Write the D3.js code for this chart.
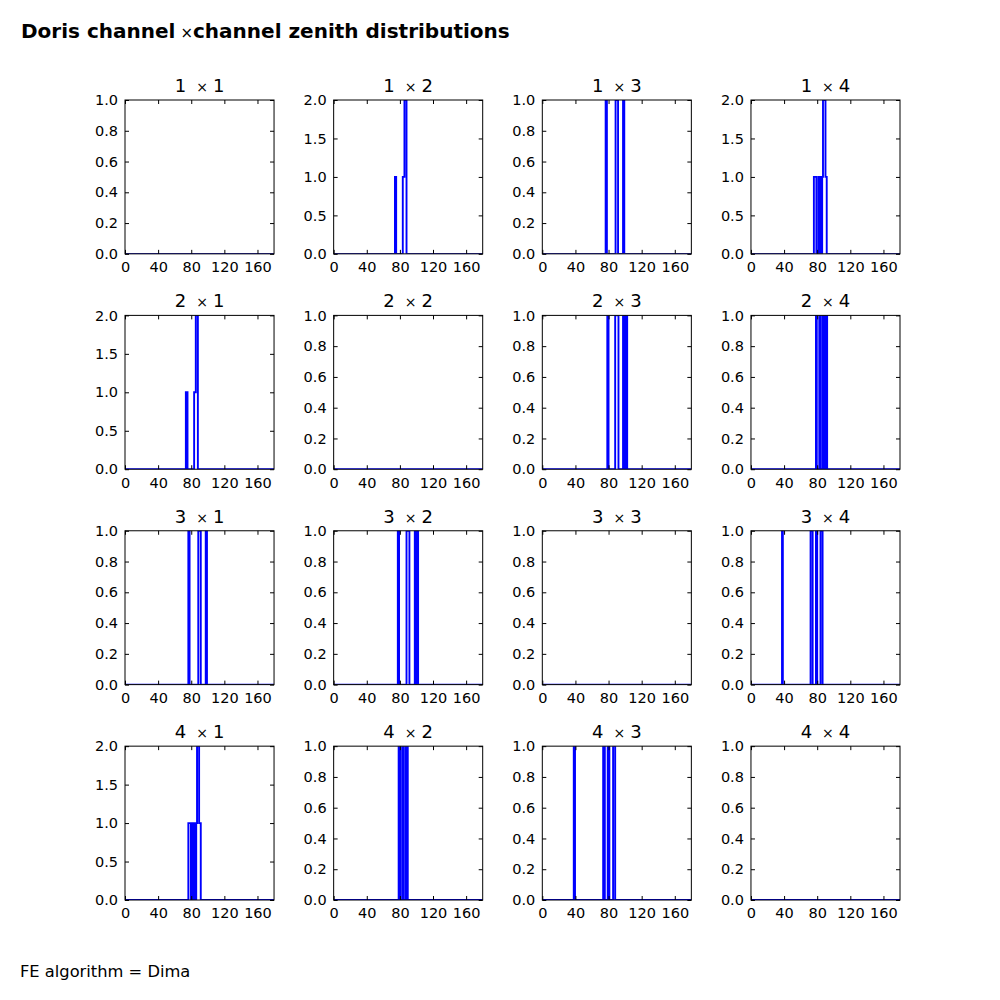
<!DOCTYPE html>
<html>
<head>
<meta charset="utf-8">
<script src="https://cdn.jsdelivr.net/npm/d3@7"></script>
<style>
  body { margin: 0; background: #fff; }
  text { font-family: "DejaVu Sans", sans-serif; }
</style>
</head>
<body>
<div id="chart"></div>
<script>
// histogram segments per channel pair: [from deg, to deg, count]
var h11 = [];
var h12 = [[74, 75.5, 1], [83.5, 85.5, 1], [85.5, 88, 2]];
var h13 = [[76.5, 78, 1], [88.5, 91.5, 1], [97.5, 99, 1]];
var h14 = [[76, 79, 1], [81.5, 82.5, 1], [83, 84, 1], [84.5, 85.5, 1], [86, 87, 1], [87, 90, 2], [90, 91.5, 1]];
var h21 = [[73.5, 75.5, 1], [83.5, 85.5, 1], [85.5, 88, 2]];
var h22 = [];
var h23 = [[78.5, 80, 1], [88, 92, 1], [97.5, 99, 1], [100.5, 102.5, 1]];
var h24 = [[78.5, 79.5, 1], [82.5, 83.5, 1], [86, 87, 1], [87.5, 88.5, 1], [89, 90, 1], [90.5, 92, 1]];
var h31 = [[76.5, 78, 1], [88.5, 91.5, 1], [97.5, 99, 1]];
var h32 = [[77.5, 79, 1], [88, 91.5, 1], [98, 99.5, 1], [100.5, 102, 1]];
var h33 = [];
var h34 = [[37.5, 38.5, 1], [72, 74.5, 1], [78.5, 80, 1], [84, 86.5, 1]];
var h41 = [[76.5, 79.5, 1], [81.5, 82.5, 1], [83, 84, 1], [84.5, 85.5, 1], [86, 87, 1], [87, 89.5, 2], [89.5, 91.5, 1]];
var h42 = [[78.5, 80.5, 1], [83, 84, 1], [86.5, 87.5, 1], [88, 89.5, 1]];
var h43 = [[38, 39.5, 1], [73.5, 75.5, 1], [79, 81, 1], [85.5, 88, 1]];
var h44 = [];

var channels = [1, 2, 3, 4];
var panels = [
    [h11, h12, h13, h14],
    [h21, h22, h23, h24],
    [h31, h32, h33, h34],
    [h41, h42, h43, h44]
];
var xTicks = [0, 40, 80, 120, 160];
var yTicks1 = [0, 0.2, 0.4, 0.6, 0.8, 1.0];
var yTicks2 = [0, 0.5, 1.0, 1.5, 2.0];

var svgWidth = 1000;
var svgHeight = 1000;
var margin = {top: 100, right: 100, bottom: 100, left: 125};
var space = 0.4;
var cellW = (svgWidth - margin.left - margin.right) / (4 + 3 * space);
var cellH = (svgHeight - margin.top - margin.bottom) / (4 + 3 * space);

var svg = d3.select("#chart")
    .append("svg")
    .attr("width", svgWidth)
    .attr("height", svgHeight);

var title = svg.append("text")
    .attr("x", 21)
    .attr("y", 38)
    .style("font-size", "20px")
    .style("font-weight", "bold");
title.append("tspan").text("Doris channel");
title.append("tspan").attr("dx", 5).style("font-weight", "normal").style("font-size", "15px").text("×");
title.append("tspan").text("channel zenith distributions");

svg.append("text")
    .attr("x", 20)
    .attr("y", 977)
    .style("font-size", "16.3px")
    .text("FE algorithm = Dima");

var xScale = d3.scaleLinear().domain([0, 180]).range([0, cellW]);

// turn segments into a step outline
function stepPoints(segs) {
    var pts = [[0, 0]];
    var prev = null;
    segs.forEach(function (s) {
        if (prev === null || prev[1] !== s[0]) {
            if (prev !== null) pts.push([prev[1], 0]);
            pts.push([s[0], 0]);
        }
        pts.push([s[0], s[2]]);
        pts.push([s[1], s[2]]);
        prev = s;
    });
    if (prev !== null) pts.push([prev[1], 0]);
    pts.push([180, 0]);
    return pts;
}

channels.forEach(function (a, r) {
    channels.forEach(function (b, c) {
        var segs = panels[r][c];
        var maxCount = d3.max(segs, function (s) { return s[2]; }) || 1;
        var yTicks = maxCount === 2 ? yTicks2 : yTicks1;
        var yScale = d3.scaleLinear().domain([0, maxCount]).range([cellH, 0]);

        var gx = margin.left + c * cellW * (1 + space);
        var gy = margin.top + r * cellH * (1 + space);
        var g = svg.append("g").attr("transform", `translate(${gx}, ${gy})`);

        var clipId = "clip" + r + c;
        g.append("clipPath").attr("id", clipId)
            .append("rect").attr("width", cellW).attr("height", cellH);

        var line = d3.line()
            .x(function (d) { return xScale(d[0]); })
            .y(function (d) { return yScale(d[1]); });

        g.append("path")
            .datum(stepPoints(segs))
            .attr("clip-path", `url(#${clipId})`)
            .attr("d", line)
            .attr("fill", "none")
            .attr("stroke", "#0000ff")
            .attr("stroke-width", 1.9);

        var bottomAxis = d3.axisBottom(xScale).tickValues(xTicks).tickSizeInner(-4).tickSizeOuter(0).tickPadding(8);
        var topAxis = d3.axisTop(xScale).tickValues(xTicks).tickSizeInner(-4).tickSizeOuter(0).tickFormat("");
        var leftAxis = d3.axisLeft(yScale).tickValues(yTicks).tickSizeInner(-4).tickSizeOuter(0).tickPadding(7).tickFormat(d3.format(".1f"));
        var rightAxis = d3.axisRight(yScale).tickValues(yTicks).tickSizeInner(-4).tickSizeOuter(0).tickFormat("");

        [
            g.append("g").attr("transform", `translate(0, ${cellH})`).call(bottomAxis),
            g.append("g").call(topAxis),
            g.append("g").call(leftAxis),
            g.append("g").attr("transform", `translate(${cellW}, 0)`).call(rightAxis)
        ].forEach(function (ax) {
            ax.select(".domain").remove();
            ax.selectAll("text").style("font-size", "14.5px").style("font-family", "DejaVu Sans").attr("fill", "#000");
            ax.selectAll("line").attr("stroke", "#000");
        });

        g.append("rect")
            .attr("width", cellW)
            .attr("height", cellH)
            .attr("fill", "none")
            .attr("stroke", "#000")
            .attr("stroke-width", 1);

        var t = g.append("text")
            .attr("x", cellW / 2)
            .attr("y", -8)
            .attr("text-anchor", "middle")
            .style("font-size", "18px");
        t.append("tspan").text(a);
        t.append("tspan").attr("dx", 10).style("font-size", "14px").text("×");
        t.append("tspan").attr("dx", 5).text(b);
    });
});
</script>
</body>
</html>
